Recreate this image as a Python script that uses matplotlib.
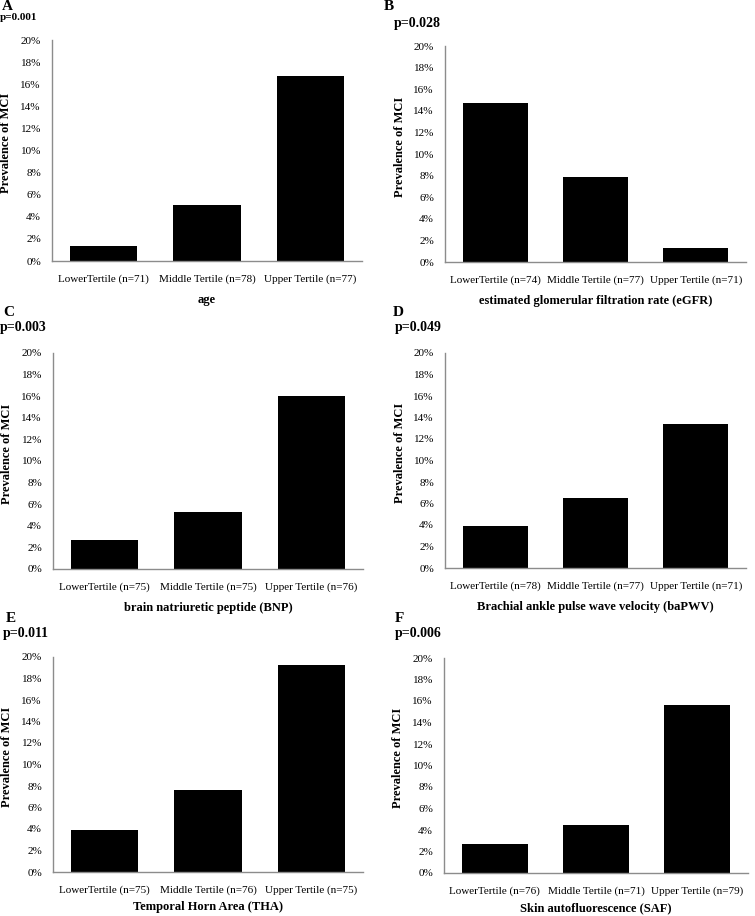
import matplotlib
matplotlib.use("Agg")
import matplotlib.pyplot as plt
from matplotlib.ticker import PercentFormatter

plt.rcParams['font.family'] = ['Liberation Serif', 'DejaVu Serif']

# =====================
# DATA
# =====================
letters = ['A', 'B', 'C', 'D', 'E', 'F']
p_values = ['p=0.001', 'p=0.028', 'p=0.003', 'p=0.049', 'p=0.011', 'p=0.006']
variables = ['age',
             'estimated glomerular filtration rate (eGFR)',
             'brain natriuretic peptide (BNP)',
             'Brachial ankle pulse wave velocity (baPWV)',
             'Temporal Horn Area (THA)',
             'Skin autofluorescence (SAF)']
n_counts = [[71, 78, 77],
            [74, 77, 71],
            [75, 75, 76],
            [78, 77, 71],
            [75, 76, 75],
            [76, 71, 79]]
prevalence = [[1.4, 5.1, 16.7],
              [14.7, 7.9, 1.3],
              [2.7, 5.3, 16.0],
              [3.9, 6.5, 13.4],
              [3.9, 7.6, 19.3],
              [2.7, 4.5, 15.6]]
tertiles = ['LowerTertile', 'Middle Tertile', 'Upper Tertile']
yticks = [0, 2, 4, 6, 8, 10, 12, 14, 16, 18, 20]

# =====================
# LAYOUT (pixel boxes: left, top, right, bottom)
# =====================
W, H = 755, 916
boxes = [(52, 40, 362, 261),
         (445, 46, 746, 262),
         (53, 353, 363, 569),
         (445, 353, 746, 568),
         (53, 657, 363, 872),
         (444, 658, 748, 873)]
letter_pos = [(2, 7), (384, 6), (3, 313), (393, 312), (6, 618), (395, 618)]
p_pos = [(0, 17), (394, 24), (0, 328), (395, 327), (3, 633), (395, 633)]
p_size = [8, 10, 10, 10, 10, 10]
xlabel_pad = [7, 7, 7, 7, 4, 4]

fig = plt.figure(figsize=(W / 100, H / 100), dpi=100)

for i in range(6):
    l, t, r, b = boxes[i]
    ax = fig.add_axes([l / W, 1 - b / H, (r - l) / W, (b - t) / H])
    labels = [f"{tertiles[k]} (n={n_counts[i][k]})" for k in range(3)]
    ax.bar(range(3), prevalence[i], width=0.65, color='black')
    ax.set_xlim(-0.5, 2.5)
    ax.set_ylim(0, 20)
    ax.set_yticks(yticks)
    ax.yaxis.set_major_formatter(PercentFormatter(decimals=0))
    ax.set_xticks(range(3))
    ax.set_xticklabels(labels)
    ax.tick_params(axis='both', length=0, labelsize=8, pad=8)
    ax.tick_params(axis='x', pad=10)
    for s in ['top', 'right']:
        ax.spines[s].set_visible(False)
    for s in ['left', 'bottom']:
        ax.spines[s].set_color('#8c8c8c')
        ax.spines[s].set_linewidth(1)
    ax.set_ylabel('Prevalence of MCI', fontsize=9, fontweight='bold')
    ax.yaxis.set_label_coords(-0.13, 0.535)
    ax.set_xlabel(variables[i], fontsize=9, fontweight='bold', labelpad=xlabel_pad[i])

    lx, ly = letter_pos[i]
    fig.text(lx / W, 1 - ly / H, letters[i], fontsize=11, fontweight='bold',
             va='center', ha='left')
    px, py = p_pos[i]
    fig.text(px / W, 1 - py / H, p_values[i], fontsize=p_size[i], fontweight='bold',
             va='center', ha='left')

fig.savefig('out.png', dpi=100, facecolor='white')
